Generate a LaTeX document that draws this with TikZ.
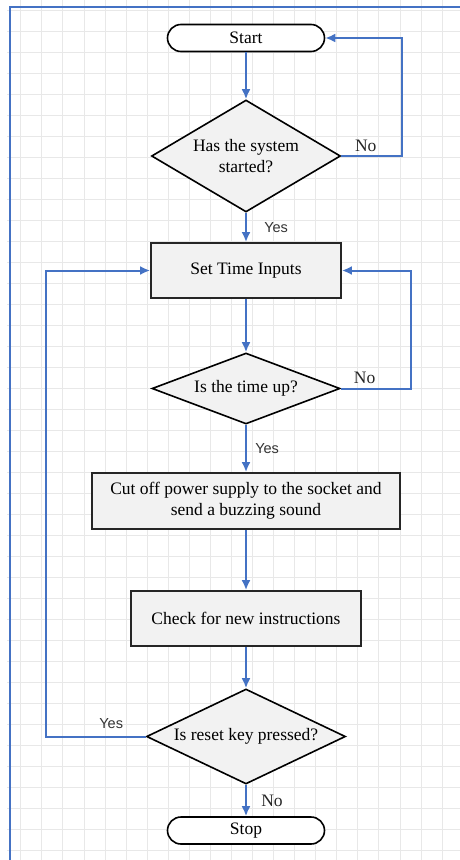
\documentclass[tikz,border=0pt]{standalone}
\usepackage{fontspec}
\setmainfont{Liberation Serif}
\newfontfamily\yesfont{Liberation Sans}
\usetikzlibrary{shapes.geometric,arrows.meta}
\definecolor{flowblue}{HTML}{4472C4}
\definecolor{boxgray}{HTML}{F2F2F2}
\definecolor{gridgray}{HTML}{E8E8E8}
\tikzset{
	term/.style={draw=black,line width=1.6pt,fill=white,rounded corners=13.5pt,minimum width=157pt,minimum height=27pt,inner sep=0pt,font=\fontsize{17.5}{21}\selectfont},
	proc/.style={draw=black!85,line width=1.8pt,fill=boxgray,minimum height=55pt,inner sep=0pt,align=center,font=\fontsize{17.5}{21}\selectfont},
	dec/.style={diamond,draw=black,line width=1.6pt,fill=boxgray,inner sep=0pt,align=center,font=\fontsize{17.5}{21}\selectfont},
	yeslbl/.style={font=\fontsize{14.5}{16}\selectfont\yesfont,text=black!80},
	nolbl/.style={font=\fontsize{17.5}{21}\selectfont,text=black!85},
}
\begin{document}
\begin{tikzpicture}[x=1pt,y=-1pt]
			\useasboundingbox[fill=white] (0,0) rectangle (460,860);
			\begin{scope}[gridgray,line width=0.8pt]
			    \foreach \gx in {0,...,20} \draw (20.7+21.07*\gx,0) -- (20.7+21.07*\gx,860);
			    \foreach \gy in {0,...,40} \draw (7,10.7+21*\gy) -- (460,10.7+21*\gy);
			\end{scope}
			\draw[flowblue,line width=2.2pt] (10,860) -- (10,7) -- (460,7);

			\node[term] (start) at (246,38) {Start};
			\node[dec,minimum width=189pt,minimum height=112pt,shape aspect=1.69] (started) at (246,156) {Has the system\\started?};
			\node[proc,minimum width=190pt] (settime) at (246,270.5) {Set Time Inputs};
			\node[dec,minimum width=188pt,minimum height=71pt,shape aspect=2.65] (timeup) at (246,388.5) {Is the time up?};
			\node[proc,minimum width=308pt,minimum height=56pt] (cutoff) at (246,501) {Cut off power supply to the socket and\\send a buzzing sound};
			\node[proc,minimum width=230pt] (check) at (246,618.5) {Check for new instructions};
			\node[dec,minimum width=199pt,minimum height=95pt,shape aspect=2.1] (reset) at (246,736.5) {Is reset key pressed?};
			\node[term] (stop) at (246,830.5) {Stop};

			\begin{scope}[->,>={Latex[length=10pt,width=9pt]},flowblue,line width=2pt]
			    \draw (start) -- (started);
			    \draw (started.east) -- node[pos=0.4,above,nolbl]{No} ++(61,0) |- (start.east);
			    \draw (started) -- node[right,xshift=14pt,yeslbl]{Yes} (settime);
			    \draw (settime) -- (timeup);
			    \draw (timeup.east) -- node[pos=0.34,above,nolbl,yshift=1pt]{No} ++(70,0) |- (settime.east);
			    \draw (timeup) -- node[right,xshift=5pt,yeslbl]{Yes} (cutoff);
			    \draw (cutoff) -- (check);
			    \draw (check) -- (reset);
			    \draw (reset.west) -- node[pos=0.345,above,yeslbl,yshift=4pt]{Yes} ++(-100,0) |- (settime.west);
			    \draw (reset) -- node[right,xshift=11pt,nolbl]{No} (stop);
			\end{scope}
		    \end{tikzpicture}
\end{document}
